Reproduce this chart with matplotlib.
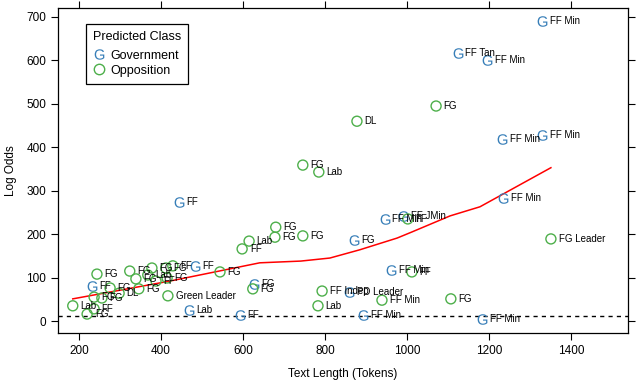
import matplotlib
matplotlib.use("Agg")
import matplotlib.pyplot as plt
from matplotlib.lines import Line2D

plt.rcParams['font.family'] = ['Liberation Sans', 'DejaVu Sans']
plt.rcParams['mathtext.fontset'] = 'custom'
plt.rcParams['mathtext.rm'] = 'Liberation Sans'

# Government predictions
gov_x = [1329, 1124, 1195, 1232, 1329, 444, 1234, 946, 990, 871,
         232, 483, 627, 468, 593, 859, 893, 961, 1183]
gov_y = [691, 617, 601, 419, 428, 274, 283, 235, 242, 187,
         81, 127, 85, 25, 14, 67, 14, 117, 5]
gov_lab = ["FF Min", "FF Tan", "FF Min", "FF Min", "FF Min", "FF", "FF Min",
           "FF Min", "FF JMin", "FG", "FF", "FF", "FG", "Lab", "FF",
           "PD Leader", "FF Min", "FF Min", "FF Min"]

# Opposition predictions
opp_x = [1071, 878, 746, 785, 1351, 680, 678, 746, 615, 598, 1002, 1012,
         624, 793, 939, 783, 1107, 544, 417, 244, 185, 220, 237, 276,
         237, 256, 298, 346, 324, 339, 368, 378, 412, 429, 388, 415]
opp_y = [495, 460, 359, 343, 189, 216, 193, 196, 184, 166, 235, 113,
         74, 69, 48, 35, 51, 113, 58, 108, 35, 16, 28, 76,
         55, 53, 64, 74, 115, 97, 106, 122, 122, 127, 92, 99]
opp_lab = ["FG", "DL", "FG", "Lab", "FG Leader", "FG", "FG", "FG", "Lab", "FF",
           "FF", "FF", "FG", "FF Indep", "FF Min", "Lab", "FG", "FG",
           "Green Leader", "FG", "Lab", "FG", "FF", "FG", "FG", "FG", "DL",
           "FG", "FG", "FG", "Lab", "FG", "FG", "FF", "FF", "FG"]

# smoothed fit
lo_x = [185, 422, 568, 641, 741, 812, 885, 976, 1012, 1105, 1178, 1351]
lo_y = [51, 92, 120, 134, 138, 145, 164, 191, 205, 242, 263, 353]
cutoff = 12

blue = "#377EB8"
green = "#4DAF4A"

fig = plt.figure(figsize=(6.4, 3.91), dpi=100)
ax = fig.add_axes([58/640, 1 - 333/391, 570/640, 325/391])

ax.scatter(gov_x, gov_y, marker=r"$\mathrm{G}$", s=58, color=blue, linewidths=0, zorder=3)
ax.scatter(opp_x, opp_y, marker="o", s=52, facecolors="none", edgecolors=green,
           linewidths=1.0, zorder=3)
for x, y, t in zip(gov_x, gov_y, gov_lab):
    ax.annotate(t, (x, y), xytext=(5.5, 0), textcoords="offset points",
                ha="left", va="center", fontsize=7)
for x, y, t in zip(opp_x, opp_y, opp_lab):
    ax.annotate(t, (x, y), xytext=(5.5, 0), textcoords="offset points",
                ha="left", va="center", fontsize=7)

ax.plot(lo_x, lo_y, color="red", lw=1.1, zorder=2)
ax.axhline(cutoff, color="black", ls=(0, (3, 3)), lw=1.0)

ax.set_xlim(149, 1539)
ax.set_ylim(-27.6, 720.7)
ax.set_xticks(range(200, 1401, 200))
ax.set_yticks(range(0, 701, 100))
ax.tick_params(direction="out", length=5, width=0.8, labelsize=8.5,
               top=True, right=True, labeltop=False, labelright=False)
for s in ax.spines.values():
    s.set_linewidth(0.9)
ax.set_xlabel("Text Length (Tokens)", fontsize=8.5, labelpad=8)
ax.set_ylabel("Log Odds", fontsize=8.5, labelpad=7)

handles = [Line2D([], [], ls="none", marker=r"$\mathrm{G}$", ms=7.5, color=blue, mew=0),
           Line2D([], [], ls="none", marker="o", ms=7.5, mfc="none", mec=green, mew=1.0)]
leg = ax.legend(handles, ["Government", "Opposition"], title="Predicted Class",
                loc="upper left", bbox_to_anchor=(0.049, 0.951), borderaxespad=0,
                fontsize=9, title_fontsize=9, fancybox=False, edgecolor="black",
                framealpha=1, handletextpad=0.4, handlelength=1.0, labelspacing=0.25,
                borderpad=0.55, alignment="left")
leg.get_frame().set_linewidth(0.9)
leg._legend_box.sep = 5

fig.savefig("out.png", dpi=100)
